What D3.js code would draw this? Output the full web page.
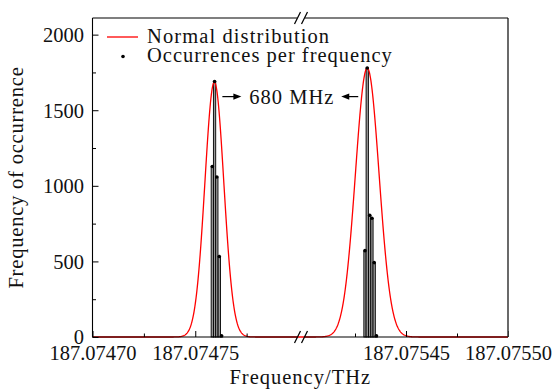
<!DOCTYPE html>
<html><head><meta charset="utf-8">
<script src="https://cdn.jsdelivr.net/npm/d3@7"></script>
<style>
body{margin:0;background:#fff}
svg{display:block}
text{font-family:"Liberation Serif","Times New Roman",serif;fill:#111}
</style>
</head><body><svg id="c" width="557" height="389"></svg>
<script>
// ---- data ----
const xMajorTicks = [187.07470, 187.07475, 187.07545, 187.07550];
const xMinorTicks = [187.074725, 187.074775, 187.075425, 187.075475];
const yMajorTicks = [0, 500, 1000, 1500, 2000];
const yMinorTicks = [250, 750, 1250, 1750];
const xSegments = [[187.07470, 187.07480], [187.07540, 187.07550]];
const leftFreqs  = [187.0747583, 187.0747594, 187.0747605, 187.0747617, 187.0747628];
const leftCounts = [1128, 1690, 1058, 532, 8];
const rightFreqs  = [187.0754299, 187.0754310, 187.0754322, 187.0754333, 187.0754344, 187.0754355];
const rightCounts = [571, 1779, 805, 785, 492, 8];
const normalMeans  = [187.0747593, 187.0754310];
const normalSigmas = [4.6e-6, 5.8e-6];
const normalPeaks  = [1687, 1779];
const legendLabels = ["Normal distribution", "Occurrences per frequency"];
const spacingLabel = "680 MHz";
const xTitle = "Frequency/THz";
const yTitle = "Frequency of occurrence";

// ---- layout ----
const L = 92.5, R = 508, T = 18, B = 337, BRK = 301;
const FS = 20.5;
const svg = d3.select("#c");

const x = d3.scaleLinear()
  .domain([xSegments[0][0], xSegments[0][1], xSegments[1][0], xSegments[1][1]])
  .range([L, BRK - 3, BRK + 3, R]);
const y = d3.scaleLinear().domain([0, 2110]).range([B, T]);

// ---- bars (occurrences) ----
const pts = leftFreqs.map((f, i) => ({f, c: leftCounts[i]}))
  .concat(rightFreqs.map((f, i) => ({f, c: rightCounts[i]})));
const bw = 2.3;
svg.append("g").selectAll("rect").data(pts).join("rect")
  .attr("x", d => x(d.f) - bw / 2).attr("width", bw)
  .attr("y", d => y(d.c)).attr("height", d => y(0) - y(d.c))
  .attr("fill", "#999").attr("stroke", "#000").attr("stroke-width", 0.9);

// ---- normal distribution curve ----
function normal(f) {
  let s = 0;
  for (let i = 0; i < normalMeans.length; i++)
    s += normalPeaks[i] * Math.exp(-0.5 * Math.pow((f - normalMeans[i]) / normalSigmas[i], 2));
  return s;
}
const curve = [];
xSegments.forEach(seg => {
  const n = 500;
  for (let k = 0; k <= n; k++) {
    const f = seg[0] + (seg[1] - seg[0]) * k / n;
    curve.push([f, normal(f)]);
  }
});
svg.append("path").datum(curve)
  .attr("d", d3.line().x(d => x(d[0])).y(d => y(d[1])))
  .attr("fill", "none").attr("stroke", "#f00").attr("stroke-width", 1.3);

// ---- dots ----
svg.append("g").selectAll("circle").data(pts).join("circle")
  .attr("cx", d => x(d.f)).attr("cy", d => y(d.c)).attr("r", 1.8).attr("fill", "#000");

// ---- axes ----
const gx = svg.append("g").attr("transform", `translate(0,${B})`)
  .call(d3.axisBottom(x).tickValues(xMajorTicks).tickSize(-6).tickPadding(0).tickFormat(d3.format(".5f")));
gx.select(".domain").remove();
gx.selectAll(".tick line").attr("stroke", "#000").attr("stroke-width", 1);
gx.selectAll("text").attr("y", 23).attr("dy", 0).attr("font-size", FS)
  .attr("font-family", '"Liberation Serif",serif').attr("fill", "#111");
const gxm = svg.append("g").attr("transform", `translate(0,${B})`)
  .call(d3.axisBottom(x).tickValues(xMinorTicks).tickSize(-3.5).tickFormat(""));
gxm.select(".domain").remove();

const gy = svg.append("g").attr("transform", `translate(${L},0)`)
  .call(d3.axisLeft(y).tickValues(yMajorTicks).tickSize(-6).tickPadding(8.5).tickFormat(d3.format("d")));
gy.select(".domain").remove();
gy.selectAll("text").attr("font-size", FS).attr("font-family", '"Liberation Serif",serif')
  .attr("fill", "#111").attr("dy", "0.34em");
const gym = svg.append("g").attr("transform", `translate(${L},0)`)
  .call(d3.axisLeft(y).tickValues(yMinorTicks).tickSize(-3.5).tickFormat(""));
gym.select(".domain").remove();

// frame with breaks
const frame = svg.append("g").attr("stroke", "#000").attr("stroke-width", 1.1).attr("fill", "none");
frame.append("line").attr("x1", L).attr("x2", L).attr("y1", T).attr("y2", B);
frame.append("line").attr("x1", R).attr("x2", R).attr("y1", T).attr("y2", B).attr("stroke", "#444").attr("stroke-width", 1.6);
[T, B].forEach(yy => {
  frame.append("line").attr("x1", L).attr("x2", BRK - 4).attr("y1", yy).attr("y2", yy);
  frame.append("line").attr("x1", BRK + 4).attr("x2", R).attr("y1", yy).attr("y2", yy);
  [-3.5, 3.5].forEach(dx => {
    frame.append("line")
      .attr("x1", BRK + dx - 3).attr("y1", yy + 6)
      .attr("x2", BRK + dx + 3).attr("y2", yy - 6)
      .attr("stroke-width", 1.2);
  });
});

// ---- annotation ----
const ay = y(1590);
const ax1 = x(normalMeans[0]) + 8, ax2 = x(normalMeans[1]) - 9;
const ann = svg.append("g");
ann.append("line").attr("x1", ax1).attr("x2", ax1 + 12).attr("y1", ay).attr("y2", ay).attr("stroke", "#000").attr("stroke-width", 1.2);
ann.append("path").attr("d", `M${ax1 + 19},${ay} L${ax1 + 11},${ay - 3.2} L${ax1 + 11},${ay + 3.2} Z`).attr("fill", "#000");
ann.append("line").attr("x1", ax2 - 12).attr("x2", ax2).attr("y1", ay).attr("y2", ay).attr("stroke", "#000").attr("stroke-width", 1.2);
ann.append("path").attr("d", `M${ax2 - 17},${ay} L${ax2 - 9},${ay - 3.2} L${ax2 - 9},${ay + 3.2} Z`).attr("fill", "#000");
ann.append("text").attr("x", (x(normalMeans[0]) + x(normalMeans[1])) / 2 + 1).attr("y", ay + 7)
  .attr("text-anchor", "middle").attr("font-size", FS).attr("letter-spacing", "1px").text(spacingLabel);

// ---- legend ----
const lg = svg.append("g");
lg.append("line").attr("x1", 107).attr("x2", 138).attr("y1", 37).attr("y2", 37).attr("stroke", "#f00").attr("stroke-width", 1.3);
lg.append("text").attr("x", 147).attr("y", 43).attr("font-size", FS).attr("letter-spacing", "1.1px").text(legendLabels[0]);
lg.append("circle").attr("cx", 123).attr("cy", 56.5).attr("r", 1.8).attr("fill", "#000");
lg.append("text").attr("x", 147).attr("y", 62).attr("font-size", FS).attr("letter-spacing", "1px").text(legendLabels[1]);

// ---- titles ----
svg.append("text").attr("x", (L + R) / 2).attr("y", 384).attr("text-anchor", "middle")
  .attr("font-size", FS).attr("letter-spacing", "1px").text(xTitle);
svg.append("text").attr("transform", `translate(23,${(T + B) / 2}) rotate(-90)`).attr("text-anchor", "middle")
  .attr("font-size", FS).attr("letter-spacing", "0.8px").text(yTitle);
</script>
</body></html>
